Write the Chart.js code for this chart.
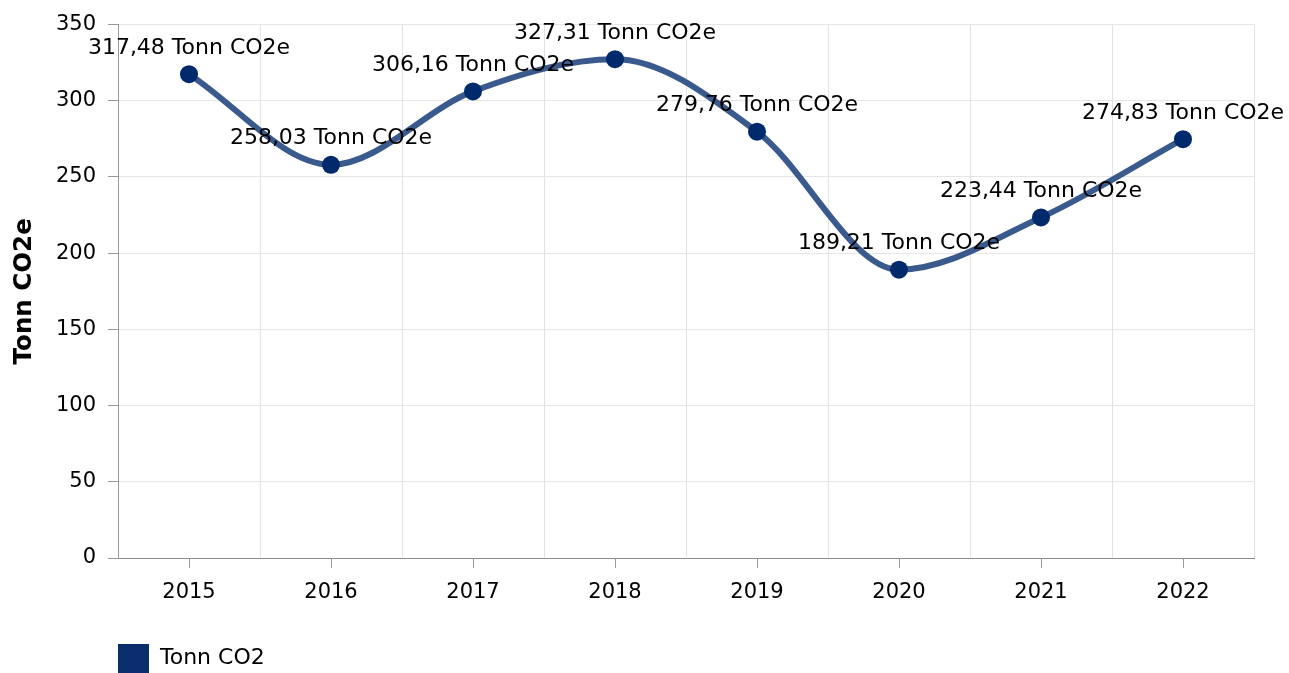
<!DOCTYPE html>
<html>
<head>
<meta charset="utf-8">
<script src="https://cdn.jsdelivr.net/npm/chart.js@4.4.1/dist/chart.umd.min.js"></script>
<style>
html, body { margin: 0; padding: 0; background: #fff; }
</style>
</head>
<body>
<canvas id="grafico" width="1289" height="673"></canvas>
<script>
const anos = ['2015', '2016', '2017', '2018', '2019', '2020', '2021', '2022'];
const tonnCO2 = [317.48, 258.03, 306.16, 327.31, 279.76, 189.21, 223.44, 274.83];
const yMin = 0;
const yMax = 350;
const yPasso = 50;

const FONTE = 'Verdana, "DejaVu Sans", sans-serif';
Chart.defaults.font.family = FONTE;
Chart.defaults.color = '#000';

// rótulos dos pontos + marcas do eixo x no centro das categorias
const rotulosPlugin = {
    id: 'rotulos',
    afterDatasetsDraw(chart) {
        const ctx = chart.ctx;
        const meta = chart.getDatasetMeta(0);
        ctx.save();
        ctx.font = '22px ' + FONTE;
        ctx.fillStyle = '#000';
        ctx.textAlign = 'center';
        ctx.textBaseline = 'middle';
        meta.data.forEach((pt, i) => {
            const txt = tonnCO2[i].toFixed(2).replace('.', ',') + ' Tonn CO2e';
            ctx.fillText(txt, pt.x, pt.y - 26);
        });

        const x = chart.scales.x;
        ctx.strokeStyle = '#999';
        ctx.lineWidth = 1;
        ctx.beginPath();
        anos.forEach((a, i) => {
            const px = Math.round(x.getPixelForValue(i)) + 0.5;
            ctx.moveTo(px, x.top);
            ctx.lineTo(px, x.top + 10);
        });
        ctx.stroke();
        ctx.restore();
    }
};

const ctx = document.getElementById('grafico').getContext('2d');
const grafico = new Chart(ctx, {
    type: 'line',
    data: {
        labels: anos,
        datasets: [{
            label: 'Tonn CO2',
            data: tonnCO2,
            borderColor: '#3a5a8d',
            backgroundColor: '#0a2d6c',
            borderWidth: 6,
            cubicInterpolationMode: 'monotone',
            pointRadius: 9,
            pointHoverRadius: 9,
            pointBorderWidth: 0,
            pointBackgroundColor: '#002a6b'
        }]
    },
    options: {
        responsive: false,
        animation: false,
        devicePixelRatio: 1,
        layout: {
            padding: { left: 6, right: 35, top: 23, bottom: 0 }
        },
        plugins: {
            tooltip: { enabled: false },
            legend: {
                position: 'bottom',
                align: 'start',
                fullSize: false,
                maxHeight: 29,
                labels: {
                    boxWidth: 31,
                    boxHeight: 29,
                    padding: 0,
                    color: '#000',
                    font: { size: 22 },
                    generateLabels(chart) {
                        const itens = Chart.defaults.plugins.legend.labels.generateLabels(chart);
                        itens.forEach(it => {
                            it.fillStyle = '#0a2d6c';
                            it.lineWidth = 0;
                            it.strokeStyle = 'transparent';
                        });
                        return itens;
                    }
                }
            }
        },
        scales: {
            x: {
                offset: true,
                grid: {
                    offset: true,
                    color: '#e2e2e2',
                    tickColor: 'transparent',
                    tickLength: 10
                },
                border: { color: '#8c8c8c', width: 1 },
                ticks: {
                    font: { size: 21 },
                    color: '#000',
                    padding: 12,
                    maxRotation: 0
                },
                afterFit(scale) {
                    scale.height = 86;
                }
            },
            y: {
                min: yMin,
                max: yMax,
                ticks: {
                    stepSize: yPasso,
                    font: { size: 21 },
                    color: '#000',
                    padding: 12
                },
                grid: {
                    color: '#e6e6e6',
                    tickColor: '#999',
                    tickLength: 10
                },
                border: { color: '#999', width: 1 },
                title: {
                    display: true,
                    text: 'Tonn CO2e',
                    color: '#000',
                    font: { size: 24.5, weight: 'bold' },
                    padding: { top: 4, bottom: 4 }
                },
                afterFit(scale) {
                    scale.width = 112;
                }
            }
        }
    },
    plugins: [rotulosPlugin]
});
</script>
</body>
</html>
